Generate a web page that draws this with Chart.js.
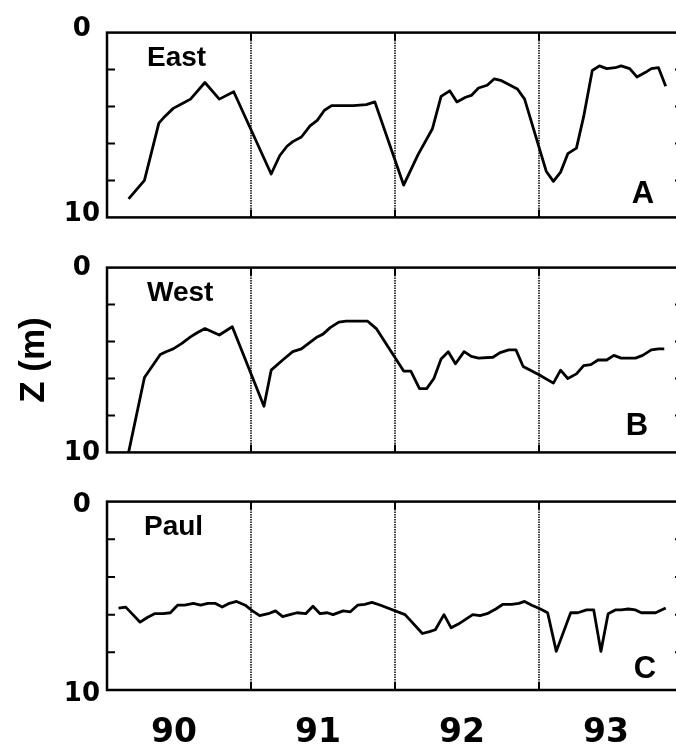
<!DOCTYPE html>
<html>
<head>
<meta charset="utf-8">
<script src="https://cdn.jsdelivr.net/npm/chart.js@4.4.1/dist/chart.umd.min.js"></script>
<style>
  html, body { margin: 0; padding: 0; background: #fff; overflow: hidden; }
  #wrap { position: relative; width: 676px; height: 746px; overflow: hidden; background: #fff; }
  canvas { position: absolute; left: 0; }
</style>
</head>
<body>
<div id="wrap">
  <canvas id="panelA" width="700" height="230" style="top:10px"></canvas>
  <canvas id="panelB" width="700" height="230" style="top:245px"></canvas>
  <canvas id="panelC" width="700" height="267" style="top:479px"></canvas>
</div>
<script>
// depth (m), x in decimal years (90 = 1990)
const eastYears = [90.15, 90.26, 90.36, 90.40, 90.46, 90.52, 90.58, 90.68, 90.78, 90.88,
  91.14, 91.20, 91.25, 91.29, 91.35, 91.41, 91.46, 91.51, 91.56, 91.62,
  91.71, 91.80, 91.86, 92.06, 92.16, 92.26, 92.32, 92.38, 92.43, 92.49,
  92.53, 92.58, 92.64, 92.69, 92.74, 92.80, 92.85, 92.90, 93.05, 93.10,
  93.15, 93.20, 93.26, 93.31, 93.37, 93.42, 93.47, 93.53, 93.57, 93.63,
  93.68, 93.74, 93.78, 93.83, 93.88];
const eastDepth = [9.0, 8.0, 4.9, 4.55, 4.1, 3.85, 3.6, 2.7, 3.6, 3.2,
  7.65, 6.65, 6.15, 5.9, 5.65, 5.05, 4.75, 4.2, 3.95, 3.95,
  3.95, 3.9, 3.75, 8.25, 6.6, 5.2, 3.45, 3.15, 3.75, 3.5,
  3.4, 3.0, 2.85, 2.5, 2.6, 2.85, 3.05, 3.6, 7.5, 8.05,
  7.55, 6.55, 6.25, 4.55, 2.05, 1.8, 1.95, 1.9, 1.8, 1.95,
  2.4, 2.15, 1.95, 1.9, 2.9];

const westYears = [90.15, 90.26, 90.37, 90.41, 90.46, 90.52, 90.58, 90.62, 90.68, 90.78, 90.87,
  91.09, 91.14, 91.22, 91.29, 91.35, 91.40, 91.46, 91.50, 91.55, 91.61, 91.66, 91.73, 91.81, 91.87,
  92.06, 92.11, 92.17, 92.22, 92.27, 92.32, 92.37, 92.42, 92.48, 92.53, 92.58, 92.68, 92.73, 92.79, 92.84, 92.89, 92.95,
  93.00, 93.10, 93.15, 93.20, 93.26, 93.31, 93.36, 93.41, 93.47, 93.52, 93.57, 93.67, 93.72, 93.78, 93.83, 93.87];
const westDepth = [10.0, 5.95, 4.7, 4.55, 4.4, 4.1, 3.75, 3.55, 3.3, 3.65, 3.2,
  7.5, 5.55, 5.0, 4.55, 4.4, 4.1, 3.75, 3.6, 3.25, 2.95, 2.9, 2.9, 2.9, 3.3,
  5.6, 5.6, 6.55, 6.55, 6.0, 4.95, 4.55, 5.2, 4.55, 4.8, 4.9, 4.85, 4.6, 4.45, 4.45, 5.35, 5.6,
  5.8, 6.25, 5.55, 6.0, 5.75, 5.3, 5.25, 5.0, 5.0, 4.75, 4.9, 4.9, 4.75, 4.45, 4.4, 4.4];

const paulYears = [90.08, 90.13, 90.18, 90.23, 90.28, 90.33, 90.39, 90.44, 90.49, 90.54, 90.60, 90.65, 90.70, 90.75, 90.80, 90.85, 90.90, 90.96,
  91.01, 91.06, 91.12, 91.17, 91.22, 91.27, 91.32, 91.38, 91.43, 91.48, 91.53, 91.57, 91.64, 91.69, 91.74, 91.79, 91.84, 91.90,
  92.07, 92.19, 92.24, 92.28, 92.34, 92.39, 92.44, 92.49, 92.54, 92.59, 92.64, 92.70, 92.75, 92.81, 92.86, 92.90, 92.95,
  93.01, 93.06, 93.12, 93.22, 93.27, 93.33, 93.38, 93.43, 93.48, 93.53, 93.57, 93.62, 93.67, 93.71, 93.76, 93.81, 93.88];
const paulDepth = [5.65, 5.6, 6.0, 6.4, 6.15, 5.95, 5.95, 5.9, 5.5, 5.5, 5.4, 5.5, 5.4, 5.4, 5.6, 5.4, 5.3, 5.5,
  5.8, 6.05, 5.95, 5.8, 6.1, 6.0, 5.9, 5.95, 5.55, 5.95, 5.9, 6.0, 5.8, 5.85, 5.5, 5.45, 5.35, 5.5,
  6.0, 7.0, 6.9, 6.8, 6.0, 6.7, 6.5, 6.25, 6.0, 6.05, 5.95, 5.7, 5.45, 5.45, 5.4, 5.3, 5.5,
  5.7, 5.9, 7.95, 5.9, 5.9, 5.75, 5.75, 7.95, 5.95, 5.75, 5.75, 5.7, 5.75, 5.9, 5.9, 5.9, 5.65];

const yearMids = [90.5, 91.5, 92.5, 93.5];
const yearLabels = ['90', '91', '92', '93'];
const yearBreaks = [91, 92, 93];
const depthTicks = [0, 2, 4, 6, 8, 10];
const depthLabels = ['0', '', '', '', '', '10'];

const BOLD_NUM = { family: 'DejaVu Sans', weight: 'bold' };

// frame, inward ticks, dotted year lines and panel captions
const framePlugin = {
  id: 'frame',
  beforeDatasetsDraw(chart) {
    const { ctx, chartArea: { top, bottom }, scales: { x } } = chart;
    ctx.save();
    ctx.strokeStyle = '#000';
    ctx.lineWidth = 1.5;
    ctx.setLineDash([1.3, 1.2]);
    yearBreaks.forEach(v => {
      const px = x.getPixelForValue(v);
      ctx.beginPath();
      ctx.moveTo(px, top);
      ctx.lineTo(px, bottom);
      ctx.stroke();
    });
    ctx.restore();
  },
  afterDatasetsDraw(chart, args, opts) {
    const { ctx, chartArea: { left, right, top, bottom }, scales: { x, y } } = chart;
    ctx.save();
    ctx.strokeStyle = '#000';
    ctx.lineWidth = 2.5;
    ctx.strokeRect(left, top, right - left, bottom - top);
    ctx.lineWidth = 2;
    const tl = 8;
    y.ticks.forEach(t => {
      if (t.value === 0 || t.value === 10) return;
      const py = y.getPixelForValue(t.value);
      ctx.beginPath();
      ctx.moveTo(left, py); ctx.lineTo(left + tl, py);
      ctx.moveTo(right, py); ctx.lineTo(right - tl, py);
      ctx.stroke();
    });
    yearBreaks.forEach(v => {
      const px = x.getPixelForValue(v);
      ctx.beginPath();
      ctx.moveTo(px, top); ctx.lineTo(px, top + tl);
      ctx.moveTo(px, bottom); ctx.lineTo(px, bottom - tl);
      ctx.stroke();
    });
    ctx.fillStyle = '#000';
    ctx.textBaseline = 'alphabetic';
    ctx.font = 'bold 28px "Liberation Sans"';
    ctx.textAlign = 'left';
    ctx.fillText(opts.name, left + opts.nameDx, top + 33);
    ctx.font = 'bold 31px "Liberation Sans"';
    ctx.textAlign = 'center';
    ctx.fillText(opts.letter, right - opts.letterDx, bottom - opts.letterDy);
    ctx.restore();
  }
};

function makePanel(id, years, depth, cfg) {
  const ctx = document.getElementById(id).getContext('2d');
  return new Chart(ctx, {
    type: 'line',
    data: {
      datasets: [{
        data: years.map((t, i) => ({ x: t, y: depth[i] })),
        borderColor: '#000',
        borderWidth: 2.8,
        borderJoinStyle: 'round',
        pointRadius: 0,
        tension: 0,
        fill: false
      }]
    },
    options: {
      responsive: false,
      animation: false,
      layout: { padding: { top: 20, bottom: cfg.showYears ? 0 : 20, left: 0, right: 17 } },
      plugins: {
        legend: { display: false },
        tooltip: { enabled: false },
        frame: { name: cfg.name, nameDx: cfg.nameDx, letter: cfg.letter, letterDx: cfg.letterDx, letterDy: cfg.letterDy }
      },
      scales: {
        x: {
          type: 'linear',
          min: 90,
          max: 94,
          display: cfg.showYears,
          afterBuildTicks: s => { s.ticks = yearMids.map(v => ({ value: v })); },
          afterFit: s => { s.height = cfg.showYears ? 56 : 0; },
          grid: { display: false, drawTicks: false },
          border: { display: false },
          ticks: {
            color: '#000',
            font: { ...BOLD_NUM, size: 33 },
            padding: 24,
            labelOffset: -5,
            autoSkip: false,
            maxRotation: 0,
            callback: (v, i) => yearLabels[i]
          }
        },
        y: {
          reverse: true,
          min: 0,
          max: 10,
          afterBuildTicks: s => { s.ticks = depthTicks.map(v => ({ value: v })); },
          afterFit: s => { s.width = 107; },
          grid: { display: false, drawTicks: false },
          border: { display: false },
          ticks: {
            color: '#000',
            font: { ...BOLD_NUM, size: 26 },
            padding: 7,
            autoSkip: false,
            crossAlign: 'center',
            labelOffset: cfg.labelOffset,
            callback: (v, i) => depthLabels[i]
          },
          title: {
            display: !!cfg.yTitle,
            text: cfg.yTitle || '',
            color: '#000',
            font: { family: 'Liberation Sans', weight: 'bold', size: 35 },
            padding: { top: 13, bottom: 0 }
          }
        }
      }
    },
    plugins: [framePlugin]
  });
}

makePanel('panelA', eastYears, eastDepth, { name: 'East', nameDx: 40, letter: 'A', letterDx: 40, letterDy: 14, labelOffset: -3, showYears: false });
makePanel('panelB', westYears, westDepth, { name: 'West', nameDx: 40, letter: 'B', letterDx: 46, letterDy: 17, labelOffset: 1, showYears: false, yTitle: 'Z (m)' });
makePanel('panelC', paulYears, paulDepth, { name: 'Paul', nameDx: 37, letter: 'C', letterDx: 38, letterDy: 12, labelOffset: 4, showYears: true });
</script>
</body>
</html>
